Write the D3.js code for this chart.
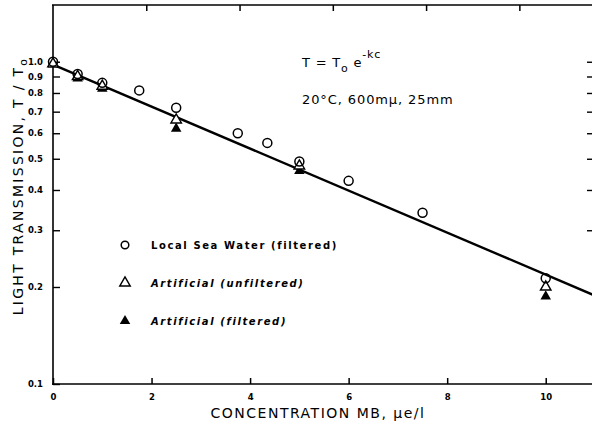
<!DOCTYPE html>
<html>
<head>
<meta charset="utf-8">
<script src="https://cdn.jsdelivr.net/npm/d3@7"></script>
<style>
body { margin: 0; background: #fff; }
svg text { font-family: "DejaVu Sans", sans-serif; fill: #000; }
.tick text { font-size: 8.5px; font-weight: bold; }
</style>
</head>
<body>
<script>
//data
var seaConc = [0, 0.5, 1.0, 1.75, 2.5, 3.75, 4.35, 5, 6, 7.5, 10],
    seaT = [1.0, 0.916, 0.86, 0.815, 0.72, 0.60, 0.56, 0.49, 0.427, 0.34, 0.213];
var unfiltConc = [0, 0.5, 1.0, 2.5, 5, 10],
    unfiltT = [0.985, 0.90, 0.84, 0.66, 0.475, 0.20];
var filtConc = [0, 0.5, 1.0, 2.5, 5, 10],
    filtT = [0.98, 0.887, 0.825, 0.62, 0.458, 0.187];
var fitLine = [[0, 0.98], [11, 0.188]];
var xTicks = [0, 2, 4, 6, 8, 10],
    yTicks = [0.1, 0.2, 0.3, 0.4, 0.5, 0.6, 0.7, 0.8, 0.9, 1.0],
    yTickLabels = ["0.1", "0.2", "0.3", "0.4", "0.5", "0.6", "0.7", "0.8", "0.9", "1.0"];
var legendNames = ["Local Sea Water (filtered)", "Artificial (unfiltered)", "Artificial (filtered)"];

var width = 592, height = 435;

var svg = d3.select("body").append("svg")
    .attr("width", width)
    .attr("height", height);

//scales
var x = d3.scaleLinear().domain([0, 11]).range([53, 595]);
var xTop = d3.scaleLinear().domain([0, 11]).range([53, 566]); //top edge is a bit skewed in the scan
var y = d3.scaleLog().domain([0.1, 1.5]).range([384, 5]);

//frame lines
svg.append("line").attr("x1", 53).attr("x2", 53).attr("y1", 5).attr("y2", 385)
    .attr("stroke", "#000").attr("stroke-width", 1.6);
svg.append("line").attr("x1", 52).attr("x2", 592).attr("y1", 384).attr("y2", 384)
    .attr("stroke", "#000").attr("stroke-width", 1.6);
svg.append("line").attr("x1", 52).attr("x2", 592).attr("y1", 5).attr("y2", 5)
    .attr("stroke", "#000").attr("stroke-width", 1.4);

//bottom axis
var xAxis = svg.append("g")
    .attr("transform", "translate(0,384)")
    .call(d3.axisBottom(x).tickValues(xTicks).tickSizeInner(-6).tickSizeOuter(0).tickPadding(10));
xAxis.select(".domain").remove();
xAxis.selectAll("line").attr("stroke-width", 1.5);

//top axis (ticks only)
var topAxis = svg.append("g")
    .attr("transform", "translate(0,5)")
    .call(d3.axisTop(xTop).tickValues([2, 4, 6, 8, 10]).tickSizeInner(-6).tickSizeOuter(0).tickFormat(""));
topAxis.select(".domain").remove();
topAxis.selectAll("line").attr("stroke-width", 1.5);

//left axis
var yAxis = svg.append("g")
    .attr("transform", "translate(53,0)")
    .call(d3.axisLeft(y).tickValues(yTicks).tickSizeInner(-7).tickSizeOuter(0).tickPadding(10)
        .tickFormat(function(d, i){ return yTickLabels[i]; }));
yAxis.select(".domain").remove();
yAxis.selectAll("line").attr("stroke-width", 1.4);

//right axis ticks
var rAxis = svg.append("g")
    .attr("transform", "translate(594,0)")
    .call(d3.axisRight(y).tickValues(yTicks.slice(2)).tickSizeInner(-7).tickSizeOuter(0).tickFormat(""));
rAxis.select(".domain").remove();
rAxis.selectAll("line").attr("stroke-width", 1.4);

//fitted line
var line = d3.line()
    .x(function(d){ return x(d[0]); })
    .y(function(d){ return y(d[1]); });
svg.append("path")
    .datum(fitLine)
    .attr("d", line)
    .attr("fill", "none")
    .attr("stroke", "#000")
    .attr("stroke-width", 2.4);

var tri = d3.symbol().type(d3.symbolTriangle).size(48);

//filtered artificial (solid triangles)
svg.selectAll(".filt")
    .data(filtConc)
    .enter()
    .append("path")
    .attr("class", "filt")
    .attr("d", tri)
    .attr("transform", function(d, i){ return "translate(" + x(d) + "," + y(filtT[i]) + ")"; })
    .attr("fill", "#000");

//unfiltered artificial (open triangles)
svg.selectAll(".unfilt")
    .data(unfiltConc)
    .enter()
    .append("path")
    .attr("class", "unfilt")
    .attr("d", tri)
    .attr("transform", function(d, i){ return "translate(" + x(d) + "," + y(unfiltT[i]) + ")"; })
    .attr("fill", "#fff")
    .attr("stroke", "#000")
    .attr("stroke-width", 1.4);

//local sea water (open circles)
svg.selectAll(".sea")
    .data(seaConc)
    .enter()
    .append("circle")
    .attr("class", "sea")
    .attr("cx", function(d){ return x(d); })
    .attr("cy", function(d, i){ return y(seaT[i]); })
    .attr("r", 4.5)
    .attr("fill", "none")
    .attr("stroke", "#000")
    .attr("stroke-width", 1.5);

//axis titles
svg.append("text")
    .attr("x", 318).attr("y", 418)
    .attr("text-anchor", "middle")
    .style("font-size", "14px")
    .style("letter-spacing", "1.5px")
    .text("CONCENTRATION  MB,  μe/l");

var yTitle = svg.append("text")
    .attr("transform", "translate(23,186) rotate(-90)")
    .attr("text-anchor", "middle")
    .style("font-size", "14px")
    .style("letter-spacing", "2.3px");
yTitle.append("tspan").text("LIGHT  TRANSMISSION,  T / T");
yTitle.append("tspan").attr("dy", 4).style("font-size", "11px").text("o");

//equation
var eq = svg.append("text")
    .attr("x", 302).attr("y", 67)
    .style("font-size", "13px")
    .style("letter-spacing", "0.8px");
eq.append("tspan").text("T = T");
eq.append("tspan").attr("dy", 5).style("font-size", "11px").text("o");
eq.append("tspan").attr("dy", -5).text("  e");
eq.append("tspan").attr("dy", -9).style("font-size", "11px").text("-kc");

svg.append("text")
    .attr("x", 302).attr("y", 104)
    .style("font-size", "13px")
    .style("letter-spacing", "0.9px")
    .text("20°C, 600mμ, 25mm");

//legend
var legY = [245, 283, 321];
svg.append("circle")
    .attr("cx", 125).attr("cy", legY[0]).attr("r", 3.8)
    .attr("fill", "none").attr("stroke", "#000").attr("stroke-width", 1.5);
svg.append("path")
    .attr("d", tri)
    .attr("transform", "translate(125," + legY[1] + ")")
    .attr("fill", "#fff").attr("stroke", "#000").attr("stroke-width", 1.4);
svg.append("path")
    .attr("d", tri)
    .attr("transform", "translate(125," + legY[2] + ")")
    .attr("fill", "#000");

svg.selectAll(".legText")
    .data(legendNames)
    .enter()
    .append("text")
    .attr("class", "legText")
    .attr("x", 151)
    .attr("y", function(d, i){ return legY[i] + 4; })
    .style("font-size", "10px")
    .style("font-weight", "bold")
    .style("letter-spacing", "1.6px")
    .style("font-style", function(d, i){ return i > 0 ? "italic" : "normal"; })
    .text(function(d){ return d; });
</script>
</body>
</html>
